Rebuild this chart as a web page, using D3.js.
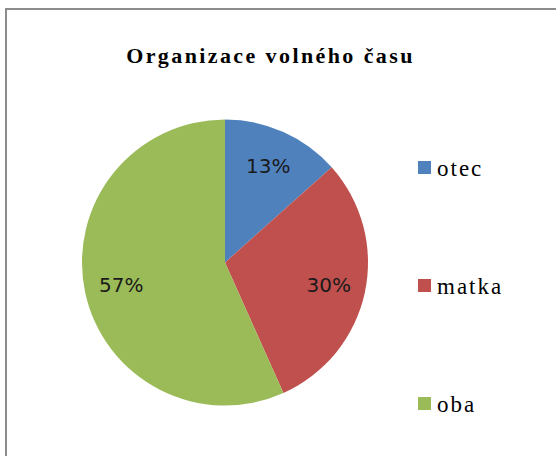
<!DOCTYPE html>
<html>
<head>
	<meta charset="utf-8">
	<script type="text/javascript" src="https://cdnjs.cloudflare.com/ajax/libs/d3/7.8.5/d3.min.js"></script>
	<style>
		body { margin: 0; background: #fff; }
	</style>
</head>
<body>
<div id="chart"></div>
<script type="text/javascript">
	// data
	var categories = ["otec", "matka", "oba"];
	var shares = [13.4, 29.9, 56.7];
	var colors = ["#4F81BD", "#C0504D", "#9BBB59"];
	var title = "Organizace volného času";

	var serifFont = "'Liberation Serif', 'DejaVu Serif', serif";

	var width = 556, height = 456;
	var cx = 225, cy = 262.5, radius = 143;

	var svg = d3.select("#chart").append("svg")
		.attr("width", width)
		.attr("height", height);

	// chart area frame (runs off the right and bottom edge)
	svg.append("rect")
		.attr("x", 6)
		.attr("y", 9)
		.attr("width", 600)
		.attr("height", 500)
		.attr("fill", "#fff")
		.attr("stroke", "#8c8c8c")
		.attr("stroke-width", 2);

	svg.append("text")
		.attr("x", 270.5)
		.attr("y", 63)
		.attr("text-anchor", "middle")
		.style("font-family", serifFont)
		.style("font-weight", "bold")
		.style("font-size", "22px")
		.style("letter-spacing", "2.4px")
		.attr("fill", "#000")
		.text(title);

	var total = d3.sum(shares);
	var pie = d3.pie().sort(null).value(function(d) { return d; });
	var arc = d3.arc().innerRadius(0).outerRadius(radius);
	var labelArc = d3.arc().innerRadius(106).outerRadius(106);
	var fmt = d3.format(".0%");

	var g = svg.append("g").attr("transform", "translate(" + cx + "," + cy + ")");
	var arcs = pie(shares);

	g.selectAll("path")
		.data(arcs)
		.enter().append("path")
		.attr("d", arc)
		.attr("fill", function(d, i) { return colors[i]; });

	g.selectAll("text")
		.data(arcs)
		.enter().append("text")
		.attr("transform", function(d) { return "translate(" + labelArc.centroid(d) + ")"; })
		.attr("dy", "0.36em")
		.attr("text-anchor", "middle")
		.style("font-family", "'DejaVu Sans', sans-serif")
		.style("font-size", "20px")
		.attr("fill", "#1a1a1a")
		.text(function(d) { return fmt(d.value / total); });

	// legend
	var legendY = d3.scalePoint().domain(categories).range([168, 404]);
	var legend = svg.selectAll(".legend")
		.data(categories)
		.enter().append("g")
		.attr("class", "legend")
		.attr("transform", function(d) { return "translate(418," + legendY(d) + ")"; });

	legend.append("rect")
		.attr("x", 0)
		.attr("y", -7)
		.attr("width", 13)
		.attr("height", 13)
		.attr("fill", function(d, i) { return colors[i]; });

	legend.append("text")
		.attr("x", 19)
		.attr("y", 8)
		.style("font-family", serifFont)
		.style("font-size", "23px")
		.style("letter-spacing", "2px")
		.attr("fill", "#000")
		.text(function(d) { return d; });
</script>
</body>
</html>
